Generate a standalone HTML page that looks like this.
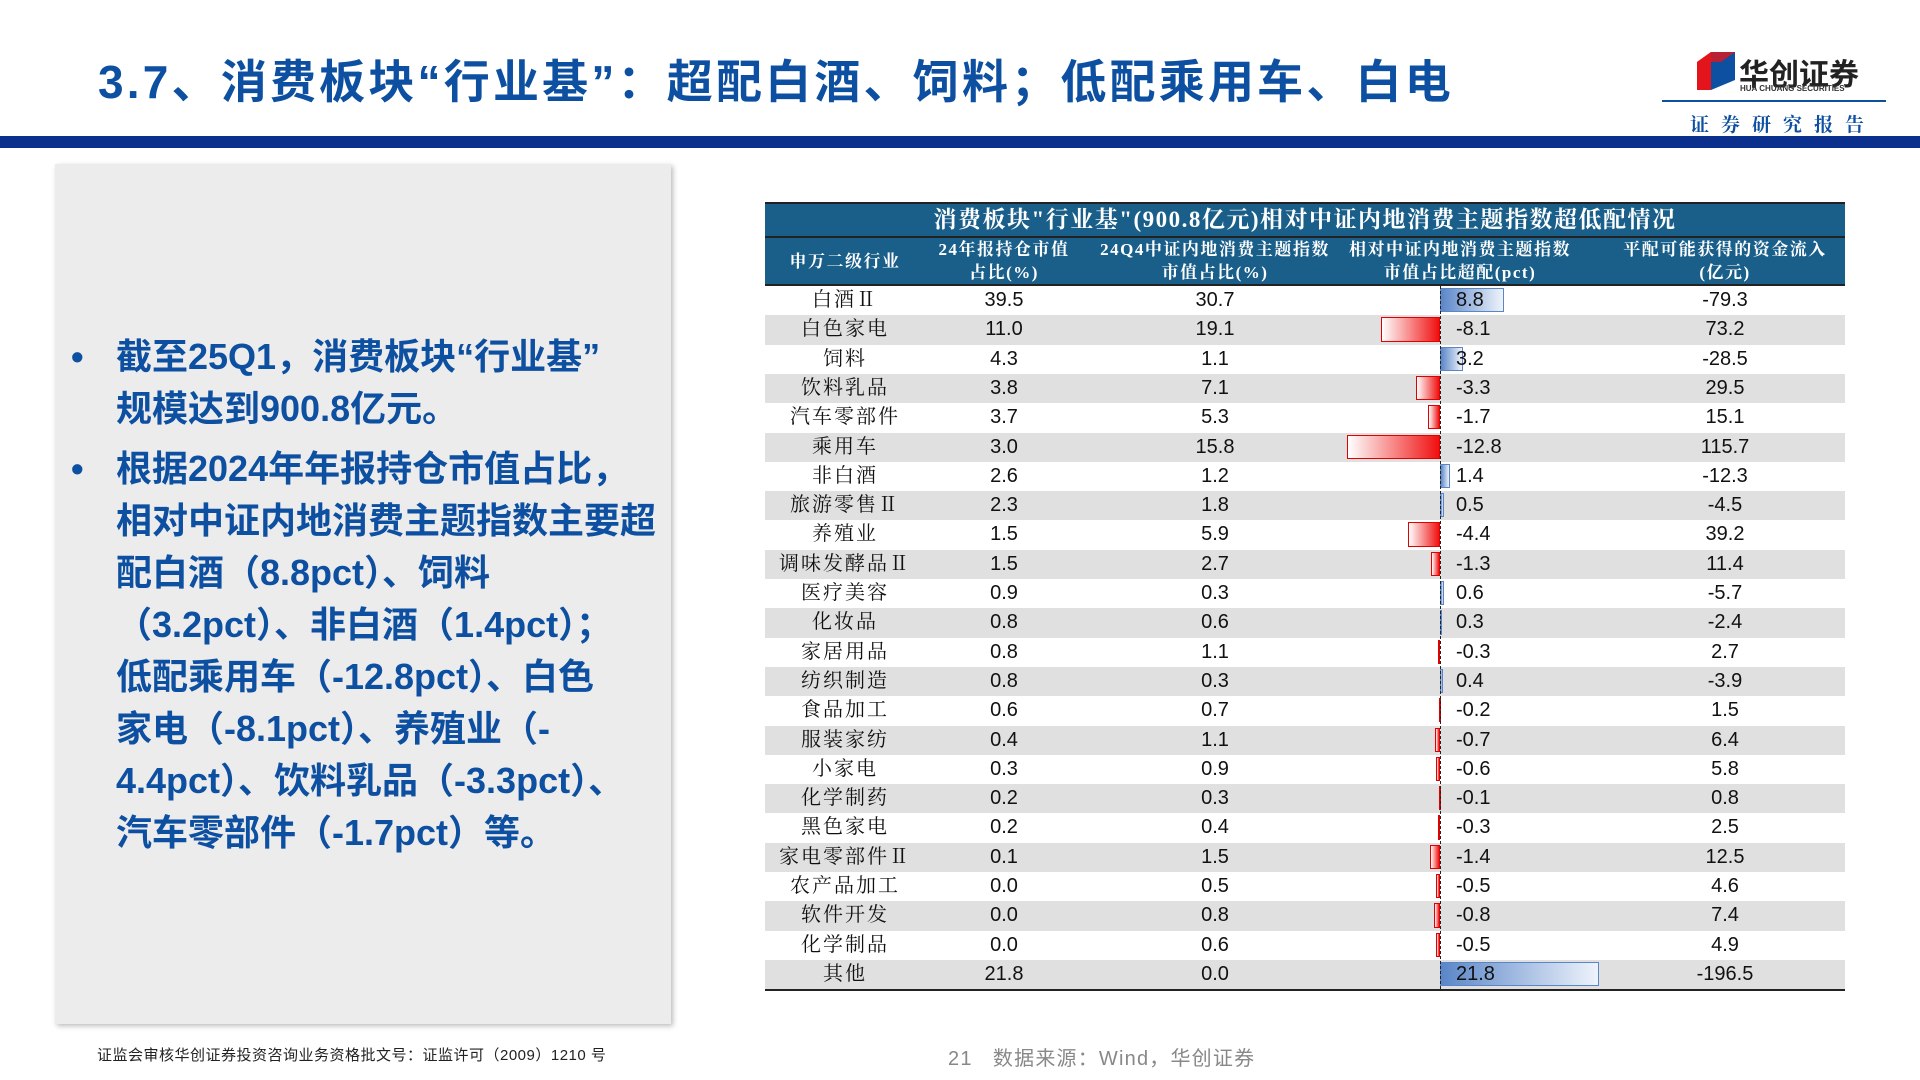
<!DOCTYPE html>
<html><head><meta charset="utf-8">
<style>
body{margin:0;width:1920px;height:1080px;background:#fff;position:relative;overflow:hidden;font-family:"Liberation Sans","Noto Sans CJK SC",sans-serif;}
.abs{position:absolute;}
#title{left:98px;top:46px;font-size:46px;font-weight:bold;color:#0d4fa0;letter-spacing:3.2px;white-space:nowrap;}
#bar{left:0;top:136px;width:1920px;height:12px;background:#0a2f8c;}
#panel{left:55px;top:164px;width:616px;height:860px;background:#ececec;box-shadow:2px 2px 5px #bbb;}
.bl{position:absolute;color:#0d4fa0;font-size:36px;font-weight:bold;line-height:52px;white-space:nowrap;}
#tbl{left:765px;top:202px;width:1080px;}
.cell{position:absolute;white-space:nowrap;}
.cn{font-family:"Liberation Serif","Noto Serif CJK SC",serif;}
</style></head><body>
<div class="abs" id="title">3.7、消费板块“行业基”：超配白酒、饲料；低配乘用车、白电</div>
<div class="abs" style="left:1697px;top:52px;width:38px;height:38px;">
<svg width="38" height="38"><polygon points="0,10 14,0 14,38 0,38" fill="#e3141b"/><polygon points="14,0 38,0 38,28 14,38" fill="#0d4fa0"/><polygon points="0,10 14,0 38,0 24,10" fill="#e3141b" opacity="0.8"/></svg></div>
<div class="abs" style="left:1739px;top:50px;font-size:30px;font-weight:bold;color:#222;">华创证券</div>
<div class="abs" style="left:1740px;top:84px;font-size:8px;font-weight:bold;color:#333;">HUA CHUANG SECURITIES</div>
<div class="abs" style="left:1662px;top:100px;width:224px;height:2px;background:#0d4fa0;"></div>
<div class="abs cn" style="left:1690px;top:110px;font-size:19px;font-weight:bold;color:#0d4fa0;letter-spacing:12px;">证券研究报告</div>
<div class="abs" id="bar"></div>
<div class="abs" id="panel">
<div class="bl" style="left:16px;top:167px;">•</div>
<div class="bl" style="left:61px;top:167px;">截至25Q1，消费板块“行业基”<br>规模达到900.8亿元。</div>
<div class="bl" style="left:16px;top:279px;">•</div>
<div class="bl" style="left:61px;top:279px;">根据2024年年报持仓市值占比，<br>相对中证内地消费主题指数主要超<br>配白酒（8.8pct）、饲料<br>（3.2pct）、非白酒（1.4pct）；<br>低配乘用车（-12.8pct）、白色<br>家电（-8.1pct）、养殖业（-<br>4.4pct）、饮料乳品（-3.3pct）、<br>汽车零部件（-1.7pct）等。</div>
</div>
<div class="abs" id="tbl"></div>
<div class="abs" style="left:97px;top:1044px;font-size:15px;color:#222;letter-spacing:0.5px;">证监会审核华创证券投资咨询业务资格批文号：证监许可（2009）1210 号</div>
<div class="abs" style="left:948px;top:1042px;font-size:20px;color:#888;letter-spacing:1.2px;">21&nbsp;&nbsp;&nbsp;数据来源：Wind，华创证券</div>
<script>
const industries=["白酒Ⅱ","白色家电","饲料","饮料乳品","汽车零部件","乘用车","非白酒","旅游零售Ⅱ","养殖业","调味发酵品Ⅱ","医疗美容","化妆品","家居用品","纺织制造","食品加工","服装家纺","小家电","化学制药","黑色家电","家电零部件Ⅱ","农产品加工","软件开发","化学制品","其他"];
const fundShare=[39.5,11.0,4.3,3.8,3.7,3.0,2.6,2.3,1.5,1.5,0.9,0.8,0.8,0.8,0.6,0.4,0.3,0.2,0.2,0.1,0.0,0.0,0.0,21.8];
const indexShare=[30.7,19.1,1.1,7.1,5.3,15.8,1.2,1.8,5.9,2.7,0.3,0.6,1.1,0.3,0.7,1.1,0.9,0.3,0.4,1.5,0.5,0.8,0.6,0.0];
const overweight=[8.8,-8.1,3.2,-3.3,-1.7,-12.8,1.4,0.5,-4.4,-1.3,0.6,0.3,-0.3,0.4,-0.2,-0.7,-0.6,-0.1,-0.3,-1.4,-0.5,-0.8,-0.5,21.8];
const inflow=[-79.3,73.2,-28.5,29.5,15.1,115.7,-12.3,-4.5,39.2,11.4,-5.7,-2.4,2.7,-3.9,1.5,6.4,5.8,0.8,2.5,12.5,4.6,7.4,4.9,-196.5];
const T=document.getElementById('tbl');
const W=1080,rowH=29.3,top0=82,axisX=675,pxPer=7.3;
function xScale(v){return axisX+v*pxPer;}
function add(parent,css,html,name,cls){const d=document.createElement('div');d.className='cell '+(cls||'');d.style.cssText=css;d.innerHTML=html;


parent.appendChild(d);return d;}
add(T,`left:0;top:0;width:${W}px;height:32px;background:#1a5f8a;border-top:2px solid #222;border-bottom:2px solid #222;color:#fff;font-size:23px;font-weight:bold;text-align:center;line-height:32px;letter-spacing:1.5px;`,'消费板块"行业基"(900.8亿元)相对中证内地消费主题指数超低配情况','table-title','cn');
add(T,`left:0;top:36px;width:${W}px;height:46px;background:#1a5f8a;border-bottom:2px solid #222;`,'','header-row');
const hdr=[["申万二级行业",80],["24年报持仓市值<br>占比(%)",239],["24Q4中证内地消费主题指数<br>市值占比(%)",450],["相对中证内地消费主题指数<br>市值占比超配(pct)",695],["平配可能获得的资金流入<br>(亿元)",960]];
hdr.forEach((h,i)=>add(T,`left:${h[1]-130}px;top:36px;width:260px;height:46px;color:#fff;font-size:17px;font-weight:bold;text-align:center;line-height:23px;letter-spacing:1.5px;display:flex;align-items:center;justify-content:center;`,h[0],'header-col-'+(i+1),'cn'));
industries.forEach((n,i)=>{
 const y=top0+2+i*rowH;
 if(i%2==1) add(T,`left:0;top:${y}px;width:${W}px;height:${rowH}px;background:#e0e0e0;`,'','row-stripe');
 const fs='font-size:20px;line-height:'+rowH+'px;top:'+y+'px;color:#111;';
 add(T,fs+`left:0;width:160px;text-align:center;letter-spacing:2px;`,n,'industry-label','cn');
 add(T,fs+`left:169px;width:140px;text-align:center;`,fundShare[i].toFixed(1),'fund-share');
 add(T,fs+`left:380px;width:140px;text-align:center;`,indexShare[i].toFixed(1),'index-share');
 const v=overweight[i],x0=Math.min(xScale(0),xScale(v)),w=Math.abs(xScale(v)-xScale(0));
 const bg=v>=0?'linear-gradient(90deg,#5a86c8,#eef3fb)':'linear-gradient(90deg,#fff,#f01010)';
 const bd=v>=0?'#5a86c8':'#e00000';
 add(T,`left:${x0}px;top:${y+2}px;width:${w}px;height:${rowH-5}px;background:${bg};border:1px solid ${bd};box-sizing:border-box;`,'','overweight-bar');
 add(T,fs+`left:${axisX+16}px;width:60px;`,v.toFixed(1),'overweight-value');
 add(T,fs+`left:890px;width:140px;text-align:center;`,inflow[i].toFixed(1),'inflow-value');
});
add(T,`left:${axisX}px;top:${top0+2}px;width:0;height:${rowH*24}px;border-left:1.5px dashed #222;`,'','zero-axis');
add(T,`left:0;top:${top0+2+rowH*24}px;width:${W}px;height:0;border-top:2px solid #222;`,'','table-bottom-rule');
</script>
</body></html>
